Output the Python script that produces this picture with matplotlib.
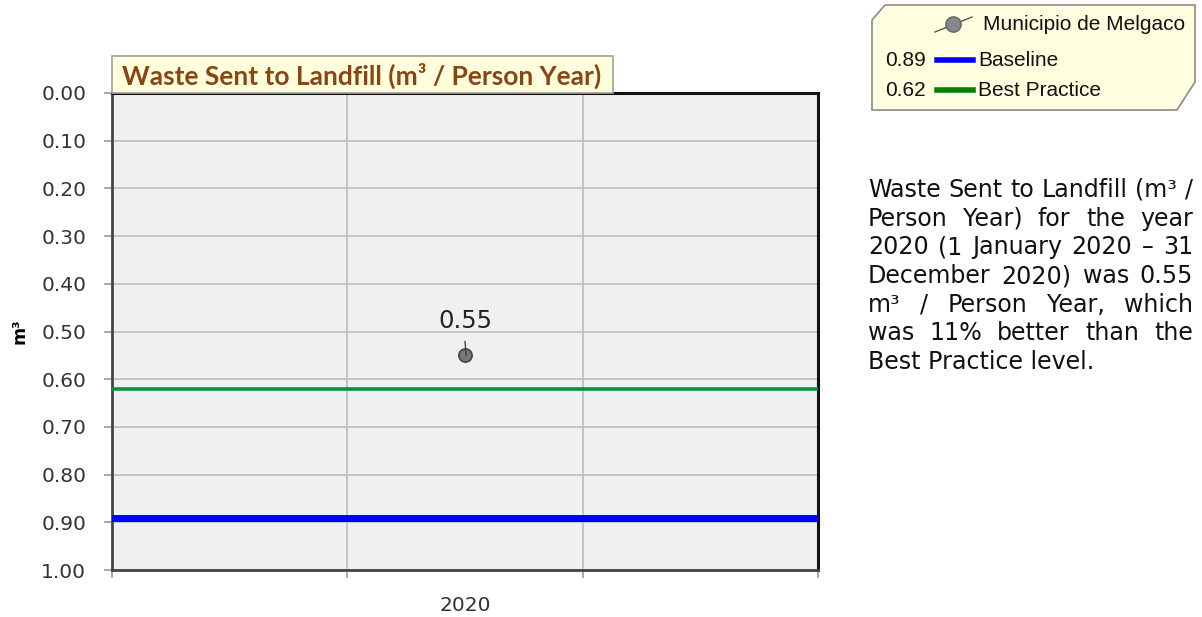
import matplotlib
matplotlib.use("Agg")
import matplotlib.pyplot as plt
from matplotlib.patches import Polygon, Rectangle

# ---- data ----
categories = ["2020"]
series_name = "Municipio de Melgaco"
values = [0.55]
baseline = 0.89
best_practice = 0.62
yticks = [0.0, 0.1, 0.2, 0.3, 0.4, 0.5, 0.6, 0.7, 0.8, 0.9, 1.0]
title = "Waste Sent to Landfill (m\u00b3 / Person Year)"
paragraph = [
    "Waste Sent to Landfill (m\u00b3 /",
    "Person Year) for the year",
    "2020 (1 January 2020 \u2013 31",
    "December 2020) was 0.55",
    "m\u00b3 / Person Year, which",
    "was 11% better than the",
    "Best Practice level.",
]

W, H = 1202, 617
fig = plt.figure(figsize=(W / 100, H / 100), dpi=100)
fig.patch.set_facecolor("white")
renderer = fig.canvas.get_renderer()

def fx(px):
    return px / W

def fy(py):
    return 1 - py / H

def fit(t, target_px):
    bb = t.get_window_extent(renderer)
    t.set_fontsize(t.get_fontsize() * target_px / bb.width)

AX_L, AX_R, AX_T, AX_B = 112, 818, 93, 570
ax = fig.add_axes([fx(AX_L), fy(AX_B), fx(AX_R) - fx(AX_L), fy(AX_T) - fy(AX_B)])
ax.set_facecolor("#EFF0F2")
ax.set_xlim(0, 3)
ax.set_ylim(1.0, 0.0)
ax.set_yticks(yticks)
ax.set_yticklabels([f"{v:.2f}" for v in yticks], fontsize=14.5, color="#333333")
ax.set_xticks([0, 1, 2, 3])
ax.set_xticklabels([])
ax.grid(True, color="#BDBDBD", linewidth=1.2)
ax.set_axisbelow(True)
ax.tick_params(axis="both", length=5.5, color="#999999", width=1.2)
ax.tick_params(axis="y", pad=13)
for s in ["left", "bottom"]:
    ax.spines[s].set_color("#444444")
    ax.spines[s].set_linewidth(2)
for s in ["right", "top"]:
    ax.spines[s].set_color("#111111")
    ax.spines[s].set_linewidth(2.2)

# category label
ax.text(1.5, -0.075, categories[0], transform=ax.get_xaxis_transform(),
        ha="center", va="center", fontsize=14.5, color="#333333")

# reference lines
ax.axhline(baseline, color="#0000FF", linewidth=5, zorder=3)
ax.axhline(best_practice, color="#009245", linewidth=2.6, zorder=3)

# point
xs = [1.5 + i for i in range(len(values))]
ax.plot(xs, values, marker="o", markersize=9.5, color="#777777",
        markeredgecolor="#444444", markeredgewidth=1.2, linestyle="none", zorder=4)
for x, v in zip(xs, values):
    ax.plot([x, x + 0.005], [v - 0.029, v], color="#444444", linewidth=1, zorder=4)
    ax.text(x, v - 0.047, f"{v:.2f}", ha="center", va="bottom",
            fontsize=17.5, color="#222222")

ax.set_ylabel("m\u00b3", fontsize=12.5, fontweight="bold")
ax.yaxis.set_label_coords((28 - AX_L) / (AX_R - AX_L), 0.5)

# title box
fig.patches.append(Rectangle((fx(112), fy(93)), fx(613) - fx(112), fy(56) - fy(93),
                             transform=fig.transFigure, facecolor="#FFFFDD",
                             edgecolor="#A0A0A0", linewidth=1.2, zorder=5))
tt = fig.text(fx(362), fy(75.5), title, ha="center", va="center", fontsize=18,
              fontweight="bold", color="#8B4513", family="Lato", zorder=6)
fit(tt, 480)

# legend box (chamfered)
poly = [(872, 20), (885, 5), (1195, 5), (1195, 82), (1177, 110), (872, 110)]
fig.patches.append(Polygon([(fx(x), fy(y)) for x, y in poly], closed=True,
                           transform=fig.transFigure, facecolor="#FFFFE0",
                           edgecolor="#8A8A8A", linewidth=1.2, zorder=5))
lf = dict(family="Liberation Sans", fontsize=15, color="#111111", va="center", zorder=6)
fig.add_artist(plt.Line2D([fx(935), fx(972)], [fy(32), fy(17)], color="#555555",
                          linewidth=1, transform=fig.transFigure, zorder=6))
fig.add_artist(plt.Line2D([fx(953)], [fy(24)], marker="o", markersize=11,
                          color="#888888", markeredgecolor="#666666",
                          transform=fig.transFigure, zorder=7))
t1 = fig.text(fx(983), fy(24), series_name, ha="left", **lf)
fit(t1, 202)
ls = t1.get_fontsize()
fig.text(fx(885), fy(60), f"{baseline:.2f}", ha="left", **lf).set_fontsize(ls)
fig.add_artist(plt.Line2D([fx(937), fx(973)], [fy(60), fy(60)], color="#0000FF",
                          linewidth=4, transform=fig.transFigure, zorder=6))
fig.text(fx(978), fy(60), "Baseline", ha="left", **lf).set_fontsize(ls)
fig.text(fx(885), fy(90), f"{best_practice:.2f}", ha="left", **lf).set_fontsize(ls)
fig.add_artist(plt.Line2D([fx(937), fx(973)], [fy(90), fy(90)], color="#008000",
                          linewidth=4, transform=fig.transFigure, zorder=6))
fig.text(fx(978), fy(90), "Best Practice", ha="left", **lf).set_fontsize(ls)

# justified paragraph
left_px, right_px = 868, 1193
top_px, line_h = 190, 28.7
probe = fig.text(0, 0, paragraph[0], fontsize=14, family="DejaVu Sans")
fit(probe, right_px - left_px)
psize = probe.get_fontsize()
probe.remove()
pf = dict(fontsize=psize, color="#111111", family="DejaVu Sans", va="center", ha="left")
for i, line in enumerate(paragraph):
    ypx = top_px + i * line_h
    words = line.split(" ")
    if i == len(paragraph) - 1 or len(words) == 1:
        fig.text(fx(left_px), fy(ypx), line, **pf)
        continue
    widths = []
    for w in words:
        t = fig.text(0, 0, w, **pf)
        widths.append(t.get_window_extent(renderer).width)
        t.remove()
    gap = (right_px - left_px - sum(widths)) / (len(words) - 1)
    x = left_px
    for w, wd in zip(words, widths):
        fig.text(fx(x), fy(ypx), w, **pf)
        x += wd + gap

fig.savefig("out.png", dpi=100)
